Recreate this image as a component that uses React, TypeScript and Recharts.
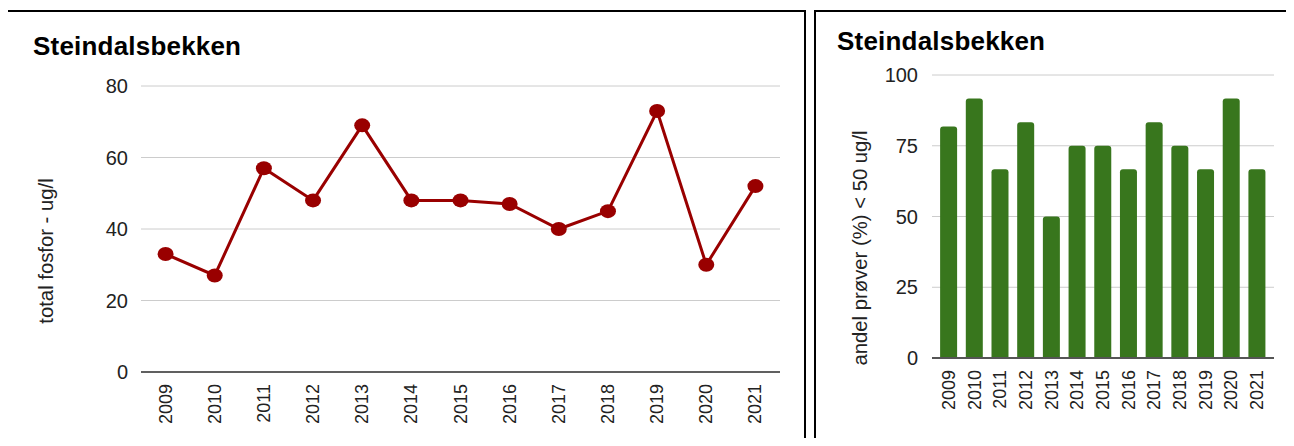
import React from "react";
import {
  Bar,
  BarChart,
  CartesianGrid,
  Line,
  LineChart,
  XAxis,
  YAxis,
} from "recharts";

const years = ["2009", "2010", "2011", "2012", "2013", "2014", "2015", "2016", "2017", "2018", "2019", "2020", "2021"];
const totalFosfor = [33, 27, 57, 48, 69, 48, 48, 47, 40, 45, 73, 30, 52];
const andelUnder50 = [81.8, 91.7, 66.7, 83.3, 50, 75, 75, 66.7, 83.3, 75, 66.7, 91.7, 66.7];
const leftTicks = [0, 20, 40, 60, 80];
const rightTicks = [0, 25, 50, 75, 100];

const FONT = "'Liberation Sans', Arial, sans-serif";
const TEXT = "#222";

const lineData = years.map((year, i) => ({ year, value: totalFosfor[i] }));
const barData = years.map((year, i) => ({ year, value: andelUnder50[i] }));

const yearTick = (props: any) => {
  const { x, y, payload } = props;
  return (
    <text
      x={x}
      y={y + 10}
      transform={`rotate(-90 ${x} ${y + 10})`}
      textAnchor="end"
      dominantBaseline="central"
      fontFamily={FONT}
      fontSize={18}
      fill={TEXT}
    >
      {payload.value}
    </text>
  );
};

const axisTitle = (x: number, y: number, text: string) => () => (
  <text
    x={x}
    y={y}
    transform={`rotate(-90 ${x} ${y})`}
    textAnchor="middle"
    dominantBaseline="central"
    fontFamily={FONT}
    fontSize={20.3}
    fill={TEXT}
  >
    {text}
  </text>
);

const Dot = (props: any) => {
  const { cx, cy, index } = props;
  if (cx == null || cy == null) return <g key={index} />;
  return <ellipse key={index} cx={cx} cy={cy} rx={8} ry={7} fill="#990000" />;
};

const Title = ({ x, y }: { x: number; y: number }) => (
  <svg style={{ position: "absolute", left: 0, top: 0, overflow: "visible" }} width={1} height={1}>
    <text x={x} y={y} fontFamily={FONT} fontWeight="bold" fontSize={26} letterSpacing={0.2} fill="#000">
      Steindalsbekken
    </text>
  </svg>
);

export default function App() {
  const tickStyle = { fontFamily: FONT, fontSize: 20, fill: TEXT };
  return (
    <div
      style={{
        position: "relative",
        margin: -8,
        width: 1294,
        height: 446,
        overflow: "hidden",
        background: "#fff",
      }}
    >
      <div
        style={{
          position: "absolute",
          left: 6,
          top: 10,
          width: 796,
          height: 460,
          border: "2px solid #000",
        }}
      />
      <div
        style={{
          position: "absolute",
          left: 814,
          top: 10,
          width: 600,
          height: 460,
          borderTop: "2px solid #000",
          borderLeft: "2px solid #000",
        }}
      />

      <div style={{ position: "absolute", left: 0, top: 0 }}>
        <LineChart
          width={806}
          height={446}
          data={lineData}
          margin={{ top: 86, right: 26, bottom: 0, left: 0 }}
        >
          <CartesianGrid stroke="#cccccc" vertical={false} />
          <XAxis
            dataKey="year"
            scale="band"
            interval={0}
            tickLine={false}
            tickSize={0}
            axisLine={{ stroke: "#333", strokeWidth: 1.5 }}
            tick={yearTick}
            height={74}
          />
          <YAxis
            domain={[0, 80]}
            ticks={leftTicks}
            width={141}
            axisLine={false}
            tickLine={false}
            tickSize={0}
            tickMargin={13}
            tick={tickStyle}
            label={axisTitle(46, 251, "total fosfor - ug/l")}
          />
          <Line
            dataKey="value"
            stroke="#990000"
            strokeWidth={3}
            dot={Dot}
            activeDot={false}
            isAnimationActive={false}
          />
        </LineChart>
      </div>

      <div style={{ position: "absolute", left: 808, top: 0 }}>
        <BarChart
          width={486}
          height={446}
          data={barData}
          margin={{ top: 75, right: 20, bottom: 0, left: 0 }}
          barCategoryGap="16%"
        >
          <CartesianGrid stroke="#cccccc" vertical={false} />
          <XAxis
            dataKey="year"
            interval={0}
            padding={{ left: 4, right: 4 }}
            tickLine={false}
            tickSize={0}
            axisLine={{ stroke: "#555", strokeWidth: 2 }}
            tick={yearTick}
            height={88}
          />
          <YAxis
            domain={[0, 100]}
            ticks={rightTicks}
            width={124}
            axisLine={false}
            tickLine={false}
            tickSize={0}
            tickMargin={14}
            tick={tickStyle}
            label={axisTitle(52, 248, "andel prøver (%) < 50 ug/l")}
          />
          <Bar dataKey="value" fill="#38761d" radius={[3, 3, 0, 0]} isAnimationActive={false} />
        </BarChart>
      </div>

      <Title x={33} y={55} />
      <Title x={837} y={50} />
    </div>
  );
}
